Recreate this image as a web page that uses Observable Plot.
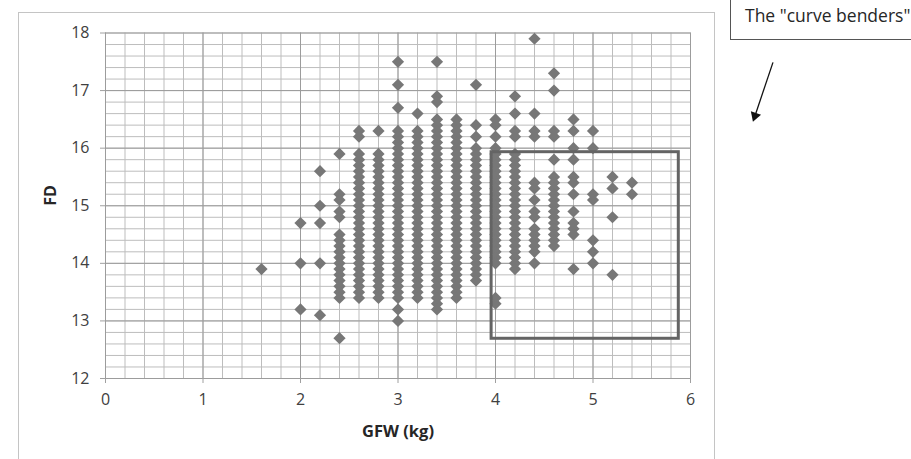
<!DOCTYPE html>
<html>
<head>
<meta charset="utf-8">
<script src="https://cdn.jsdelivr.net/npm/d3@7"></script>
<script src="https://cdn.jsdelivr.net/npm/@observablehq/plot@0.6"></script>
<style>
  html, body { margin: 0; padding: 0; background: #fff; }
  #wrap { position: relative; width: 911px; height: 459px; overflow: hidden; font-family: "Open Sans", sans-serif; }
  #frame { position: absolute; left: 18px; top: 12px; width: 697px; height: 460px; border: 1px solid #c4c4c4; box-sizing: border-box; }
  #note { position: absolute; left: 730px; top: -2px; width: 200px; height: 42px; border: 1px solid #555; box-sizing: border-box; background: #fff;
          font-family: "Open Sans", sans-serif; font-size: 17.5px; color: #262626; padding: 4px 0 0 14px; white-space: nowrap; }
  #chart { position: absolute; left: 0; top: 0; }
</style>
</head>
<body>
<div id="wrap">
  <div id="frame"></div>
  <div id="chart"></div>
  <div id="note"></div>
</div>
<script>
// ---- Data: GFW (kg) columns and the FD values read at each column ----
const gfw = [1.6, 2.0, 2.2, 2.4, 2.6, 2.8, 3.0, 3.2, 3.4, 3.6, 3.8, 4.0, 4.2, 4.4, 4.6, 4.8, 5.0, 5.2, 5.4];
const fd16 = [13.9];
const fd20 = [14.7, 14.0, 13.2];
const fd22 = [15.6, 15.0, 14.7, 14.0, 13.1];
const fd24 = [15.9, 15.2, 15.1, 14.9, 14.8, 14.5, 14.4, 14.3, 14.2, 14.1, 14.0, 13.9, 13.8, 13.7, 13.6, 13.5, 13.4, 12.7];
const fd26 = [16.3, 16.2, 15.9, 15.8, 15.7, 15.6, 15.5, 15.4, 15.3, 15.2, 15.1, 15.0, 14.9, 14.8, 14.7, 14.6, 14.5, 14.4, 14.3, 14.2, 14.1, 14.0, 13.9, 13.8, 13.7, 13.6, 13.5, 13.4];
const fd28 = [16.3, 15.9, 15.8, 15.7, 15.6, 15.5, 15.4, 15.3, 15.2, 15.1, 15.0, 14.9, 14.8, 14.7, 14.6, 14.5, 14.4, 14.3, 14.2, 14.1, 14.0, 13.9, 13.8, 13.7, 13.6, 13.5, 13.4];
const fd30 = [17.5, 17.1, 16.7, 16.3, 16.2, 16.1, 16.0, 15.9, 15.8, 15.7, 15.6, 15.5, 15.4, 15.3, 15.2, 15.1, 15.0, 14.9, 14.8, 14.7, 14.6, 14.5, 14.4, 14.3, 14.2, 14.1, 14.0, 13.9, 13.8, 13.7, 13.6, 13.5, 13.4, 13.2, 13.0];
const fd32 = [16.6, 16.3, 16.2, 16.1, 16.0, 15.9, 15.8, 15.7, 15.6, 15.5, 15.4, 15.3, 15.2, 15.1, 15.0, 14.9, 14.8, 14.7, 14.6, 14.5, 14.4, 14.3, 14.2, 14.1, 14.0, 13.9, 13.8, 13.7, 13.6, 13.5, 13.4];
const fd34 = [17.5, 16.9, 16.8, 16.5, 16.4, 16.3, 16.2, 16.1, 16.0, 15.9, 15.8, 15.7, 15.6, 15.5, 15.4, 15.3, 15.2, 15.1, 15.0, 14.9, 14.8, 14.7, 14.6, 14.5, 14.4, 14.3, 14.2, 14.1, 14.0, 13.9, 13.8, 13.7, 13.6, 13.5, 13.4, 13.3, 13.2];
const fd36 = [16.5, 16.4, 16.3, 16.2, 16.1, 16.0, 15.9, 15.8, 15.7, 15.6, 15.5, 15.4, 15.3, 15.2, 15.1, 15.0, 14.9, 14.8, 14.7, 14.6, 14.5, 14.4, 14.3, 14.2, 14.1, 14.0, 13.9, 13.8, 13.7, 13.6, 13.5, 13.4];
const fd38 = [17.1, 16.4, 16.2, 16.0, 15.9, 15.8, 15.7, 15.6, 15.5, 15.4, 15.3, 15.2, 15.1, 15.0, 14.9, 14.8, 14.7, 14.6, 14.5, 14.4, 14.3, 14.2, 14.1, 14.0, 13.9, 13.8, 13.7];
const fd40 = [16.5, 16.4, 16.2, 16.0, 15.9, 15.8, 15.7, 15.6, 15.5, 15.4, 15.3, 15.2, 15.1, 15.0, 14.9, 14.8, 14.7, 14.6, 14.5, 14.4, 14.3, 14.2, 14.1, 14.0, 13.4, 13.3];
const fd42 = [16.9, 16.6, 16.3, 16.2, 15.9, 15.8, 15.7, 15.6, 15.5, 15.4, 15.3, 15.2, 15.1, 15.0, 14.9, 14.8, 14.7, 14.6, 14.5, 14.4, 14.3, 14.2, 14.1, 14.0, 13.9];
const fd44 = [17.9, 16.6, 16.3, 16.2, 15.4, 15.3, 15.1, 14.9, 14.8, 14.6, 14.5, 14.4, 14.3, 14.2, 14.0];
const fd46 = [17.3, 17.0, 16.3, 16.2, 15.8, 15.5, 15.4, 15.3, 15.2, 15.1, 15.0, 14.9, 14.8, 14.7, 14.6, 14.5, 14.4, 14.3];
const fd48 = [16.5, 16.3, 16.0, 15.8, 15.5, 15.4, 15.2, 14.9, 14.7, 14.6, 14.5, 13.9];
const fd50 = [16.3, 16.0, 15.2, 15.1, 14.4, 14.2, 14.0];
const fd52 = [15.5, 15.3, 14.8, 13.8];
const fd54 = [15.4, 15.2];
const fdColumns = [fd16, fd20, fd22, fd24, fd26, fd28, fd30, fd32, fd34, fd36, fd38, fd40, fd42, fd44, fd46, fd48, fd50, fd52, fd54];

// ---- Axes / ticks ----
const xTicks = [0, 1, 2, 3, 4, 5, 6];
const yTicks = [12, 13, 14, 15, 16, 17, 18];
const minorStep = 0.2;
const xLabel = "GFW (kg)";
const yLabel = "FD";

// ---- Annotations (in data units) ----
const boxX = [3.96, 5.88];
const boxY = [12.69, 15.93];
const noteText = "The \"curve benders\"";
const arrowStart = [6.846, 17.49];
const arrowEnd = [6.661, 16.56];

const points = gfw.flatMap((x, i) => fdColumns[i].map(y => ({x, y})));
const minorX = d3.range(xTicks[0], xTicks[xTicks.length - 1] + 1e-9, minorStep);
const minorY = d3.range(yTicks[0], yTicks[yTicks.length - 1] + 1e-9, minorStep);

const chart = Plot.plot({
  width: 911,
  height: 459,
  marginLeft: 105,
  marginRight: 221,
  marginTop: 32.5,
  marginBottom: 81,
  style: {fontFamily: "Open Sans, sans-serif", color: "#404040", background: "transparent"},
  x: {domain: [0, 6]},
  y: {domain: [12, 18]},
  marks: [
    Plot.gridX(minorX, {stroke: "#bdbdbd", strokeOpacity: 1, strokeWidth: 1}),
    Plot.gridY(minorY, {stroke: "#bdbdbd", strokeOpacity: 1, strokeWidth: 1}),
    Plot.gridX(xTicks, {stroke: "#9c9c9c", strokeOpacity: 1, strokeWidth: 1}),
    Plot.gridY(yTicks, {stroke: "#9c9c9c", strokeOpacity: 1, strokeWidth: 1}),
    Plot.axisX(xTicks, {tickSize: 5, tickPadding: 10, stroke: "#a0a0a0", fill: "#404040", fontSize: 16, label: null, tickFormat: d => String(d)}),
    Plot.axisY(yTicks, {tickSize: 5, tickPadding: 11, stroke: "#a0a0a0", fill: "#404040", fontSize: 16, label: null, tickFormat: d => String(d)}),
    Plot.dot(points, {x: "x", y: "y", symbol: "diamond2", r: 5.5, fill: "#777777", stroke: "none"}),
    Plot.rect([{x1: boxX[0], x2: boxX[1], y1: boxY[0], y2: boxY[1]}], {x1: "x1", x2: "x2", y1: "y1", y2: "y2", fill: "none", stroke: "#646464", strokeWidth: 3}),
    Plot.text([yLabel], {frameAnchor: "left", dx: -55, rotate: -90, text: d => d, fontWeight: "bold", fontSize: 16, fill: "#262626", lineAnchor: "middle"}),
    Plot.text([xLabel], {frameAnchor: "bottom", dy: 53, text: d => d, fontWeight: "bold", fontSize: 16.5, fill: "#262626", lineAnchor: "middle"}),
    Plot.link([{a: arrowStart, b: arrowEnd}], {x1: d => d.a[0], y1: d => d.a[1], x2: d => d.b[0], y2: d => d.b[1], stroke: "#111", strokeWidth: 1.3}),
    Plot.dot([arrowEnd], {x: d => d[0], y: d => d[1], symbol: "triangle", r: 4, fill: "#111", stroke: "none", rotate: 199})
  ]
});
document.getElementById("chart").appendChild(chart);
document.getElementById("note").textContent = noteText;
</script>
</body>
</html>
